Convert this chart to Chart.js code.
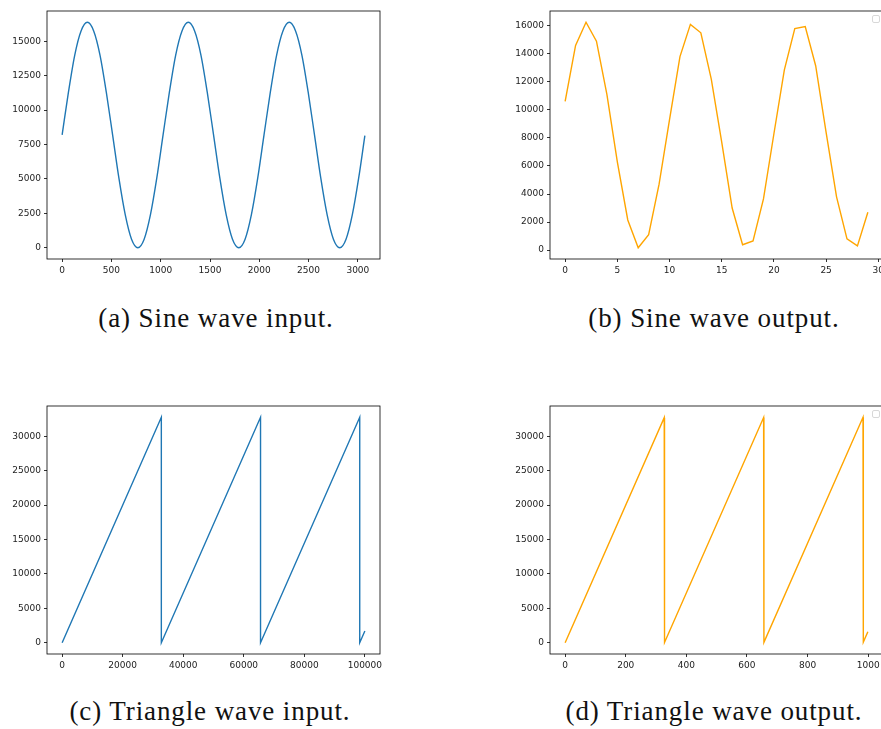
<!DOCTYPE html>
<html>
<head>
<meta charset="utf-8">
<script src="https://cdn.jsdelivr.net/npm/chart.js@4"></script>
<style>
html,body{margin:0;padding:0;background:#fff;overflow:hidden;}
body{width:881px;height:729px;position:relative;}
.box{position:absolute;width:400px;height:290px;}
.cap{position:absolute;width:400px;text-align:center;font-family:"Liberation Serif",serif;font-size:27px;letter-spacing:0.9px;color:#111;}
</style>
</head>
<body>
<div class="box" style="left:0;top:0"><canvas id="c1"></canvas></div>
<div class="box" style="left:503px;top:0"><canvas id="c2"></canvas></div>
<div class="box" style="left:0;top:395px"><canvas id="c3"></canvas></div>
<div class="box" style="left:503px;top:395px"><canvas id="c4"></canvas></div>
<div class="cap" style="left:16px;top:303px">(a) Sine wave input.</div>
<div class="cap" style="left:514px;top:303px">(b) Sine wave output.</div>
<div class="cap" style="left:10px;top:696px">(c) Triangle wave input.</div>
<div class="cap" style="left:514px;top:696px">(d) Triangle wave output.</div>
<script>
// (a) sine input, read every 64 samples
var sineInX=[0,64,128,192,256,320,384,448,512,576,640,704,768,832,896,960,
1024,1088,1152,1216,1280,1344,1408,1472,1536,1600,1664,1728,1792,1856,1920,1984,
2048,2112,2176,2240,2304,2368,2432,2496,2560,2624,2688,2752,2816,2880,2944,3008,3071];
var sineInY=[8200,11300,14000,15750,16380,15750,14000,11300,8200,5050,2400,620,0,620,2400,5050,
8200,11300,14000,15750,16380,15750,14000,11300,8200,5050,2400,620,0,620,2400,5050,
8200,11300,14000,15750,16380,15750,14000,11300,8200,5050,2400,620,0,620,2400,5050,8150];
// (b) sine output, 30 samples
var sineOutY=[10600,14600,16250,14900,11100,6300,2150,170,1100,4700,
9300,13800,16100,15500,12200,7700,3000,380,650,3650,
8300,12850,15800,15950,13150,8400,3800,800,300,2700];
// (c) triangle input
var triInX=[0,32767,32768,65535,65536,98303,98304,99999];
var triInY=[0,32767,0,32767,0,32767,0,1695];
// (d) triangle output
var triOutX=[0,327,328,655,656,983,984,999];
var triOutY=[0,32700,30,32730,60,32760,90,1590];

// tick labels
var ticksAx=[0,500,1000,1500,2000,2500,3000];
var ticksAy=[0,2500,5000,7500,10000,12500,15000];
var ticksBx=[0,5,10,15,20,25,30];
var ticksBy=[0,2000,4000,6000,8000,10000,12000,14000,16000];
var ticksCx=[0,20000,40000,60000,80000,100000];
var ticksCy=[0,5000,10000,15000,20000,25000,30000];
var ticksDx=[0,200,400,600,800,1000];
var ticksDy=[0,5000,10000,15000,20000,25000,30000];

var blue='#1f77b4';
var orange='#ffa500';

function pts(xs,ys)
{
    let out=[];
    for(let i=0;i<ys.length;i++)
    {
        out.push({x:xs?xs[i]:i,y:ys[i]});
    }
    return out;
}

function range(vals)
{
    let lo=Math.min.apply(null,vals),hi=Math.max.apply(null,vals);
    let m=(hi-lo)*0.05;
    return [lo-m,hi+m];
}

var frame={
    id:'frame',
    afterDraw:function(chart)
    {
        let a=chart.chartArea,ctx=chart.ctx;
        ctx.save();
        ctx.strokeStyle='#000';
        ctx.lineWidth=0.8;
        ctx.strokeRect(a.left,a.top,a.right-a.left,a.bottom-a.top);
        if(chart.options.plugins.emptyLegend)
        {
            ctx.strokeStyle='#d8d8d8';
            ctx.lineWidth=1;
            ctx.beginPath();
            ctx.roundRect(a.right-10.5,a.top+4.5,7,7,1.5);
            ctx.stroke();
        }
        ctx.restore();
    }
};

function axis(r,list,fit)
{
    return {
        type:'linear',min:r[0],max:r[1],
        afterFit:fit,
        afterBuildTicks:function(s){s.ticks=list.map(function(v){return {value:v};});},
        border:{display:false},
        grid:{drawOnChartArea:false,drawTicks:true,tickLength:3,color:'#000',lineWidth:0.8},
        ticks:{maxRotation:0,autoSkip:false,padding:3,color:'#222',
            font:{family:'DejaVu Sans',size:9},callback:function(v){return v;}}
    };
}

function make(id,data,color,xr,yr,xt,yt,legend,smooth)
{
    return new Chart(document.getElementById(id),{
        type:'line',
        data:{datasets:[{data:data,borderColor:color,borderWidth:1.4,pointRadius:0,fill:false,
            tension:smooth?0.4:0,cubicInterpolationMode:smooth?'monotone':'default'}]},
        options:{
            responsive:true,
            maintainAspectRatio:false,
            animation:false,
            layout:{padding:{top:11,right:20,left:0,bottom:0}},
            plugins:{legend:{display:false},tooltip:{enabled:false},emptyLegend:legend},
            scales:{
                x:axis(xr,xt,function(s){s.height=31;}),
                y:axis(yr,yt,function(s){s.width=47;})
            }
        },
        plugins:[frame]
    });
}

window.onload=function()
{
    let sx=[];
    for(let i=0;i<sineOutY.length;i++) sx.push(i);
    make('c1',pts(sineInX,sineInY),blue,[-153.55,3224.55],range([0,16383]),ticksAx,ticksAy,false,true);
    make('c2',pts(sx,sineOutY),orange,[-1.45,30.45],range(sineOutY),ticksBx,ticksBy,true,false);
    make('c3',pts(triInX,triInY),blue,[-5000,104999],range(triInY),ticksCx,ticksCy,false,false);
    make('c4',pts(triOutX,triOutY),orange,[-49.95,1048.95],range(triOutY),ticksDx,ticksDy,true,false);
}
</script>
</body>
</html>
